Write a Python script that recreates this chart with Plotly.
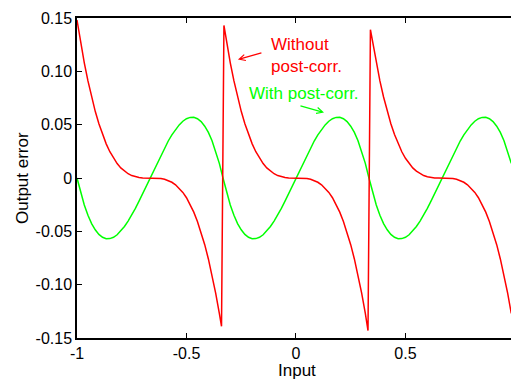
import plotly.graph_objects as go

# Input sample positions (step 1/60 over the plotted span)
x_grid = [round(-1 + i / 60, 4) for i in range(120)]

# Output error without post-correction: three cubic-shaped branches with jumps
red_seg1 = [0.1481, 0.1270, 0.1080, 0.0910, 0.0759, 0.0625, 0.0508, 0.0407, 0.0320, 0.0246,
            0.0185, 0.0135, 0.0095, 0.0064, 0.0040, 0.0023, 0.0012, 0.0005, 0.0001, 0.0000,
            0.0, -0.0000, -0.0001, -0.0005, -0.0012, -0.0023, -0.0040, -0.0064, -0.0095, -0.0135,
            -0.0185, -0.0246, -0.0320, -0.0407, -0.0508, -0.0625, -0.0759, -0.0910, -0.1080, -0.1270]
red_jump1 = [-0.139, 0.143]
red_jump1_x = [-0.340, -0.329]
red_seg2 = [0.1270, 0.1080, 0.0910, 0.0759, 0.0625, 0.0508, 0.0407, 0.0320, 0.0246,
            0.0185, 0.0135, 0.0095, 0.0064, 0.0040, 0.0023, 0.0012, 0.0005, 0.0001, 0.0000,
            0.0, -0.0000, -0.0001, -0.0005, -0.0012, -0.0023, -0.0040, -0.0064, -0.0095, -0.0135,
            -0.0185, -0.0246, -0.0320, -0.0407, -0.0508, -0.0625, -0.0759, -0.0910, -0.1080, -0.1270]
red_jump2 = [-0.143, 0.139]
red_jump2_x = [0.329, 0.340]
red_seg3 = [0.1270, 0.1080, 0.0910, 0.0759, 0.0625, 0.0508, 0.0407, 0.0320, 0.0246,
            0.0185, 0.0135, 0.0095, 0.0064, 0.0040, 0.0023, 0.0012, 0.0005, 0.0001, 0.0000,
            0.0, -0.0000, -0.0001, -0.0005, -0.0012, -0.0023, -0.0040, -0.0064, -0.0095, -0.0135,
            -0.0185, -0.0246, -0.0320, -0.0407, -0.0508, -0.0625, -0.0759, -0.0910, -0.1080, -0.1270]

# Output error with post-correction
green_y = [0.0, -0.0137, -0.0253, -0.0349, -0.0427, -0.0486, -0.0529, -0.0556, -0.0569, -0.0568,
           -0.0556, -0.0532, -0.0498, -0.0455, -0.0404, -0.0347, -0.0284, -0.0217, -0.0147, -0.0074,
           0.0, 0.0074, 0.0147, 0.0217, 0.0284, 0.0347, 0.0404, 0.0455, 0.0498, 0.0532,
           0.0556, 0.0568, 0.0569, 0.0556, 0.0529, 0.0486, 0.0427, 0.0349, 0.0253, 0.0137,
           0.0, -0.0137, -0.0253, -0.0349, -0.0427, -0.0486, -0.0529, -0.0556, -0.0569, -0.0568,
           -0.0556, -0.0532, -0.0498, -0.0455, -0.0404, -0.0347, -0.0284, -0.0217, -0.0147, -0.0074,
           0.0, 0.0074, 0.0147, 0.0217, 0.0284, 0.0347, 0.0404, 0.0455, 0.0498, 0.0532,
           0.0556, 0.0568, 0.0569, 0.0556, 0.0529, 0.0486, 0.0427, 0.0349, 0.0253, 0.0137,
           0.0, -0.0137, -0.0253, -0.0349, -0.0427, -0.0486, -0.0529, -0.0556, -0.0569, -0.0568,
           -0.0556, -0.0532, -0.0498, -0.0455, -0.0404, -0.0347, -0.0284, -0.0217, -0.0147, -0.0074,
           0.0, 0.0074, 0.0147, 0.0217, 0.0284, 0.0347, 0.0404, 0.0455, 0.0498, 0.0532,
           0.0556, 0.0568, 0.0569, 0.0556, 0.0529, 0.0486, 0.0427, 0.0349, 0.0253, 0.0137]

x_tickvals = [-1, -0.5, 0, 0.5]
x_ticktext = ["-1", "-0.5", "0", "0.5"]
y_tickvals = [-0.15, -0.10, -0.05, 0, 0.05, 0.10, 0.15]
y_ticktext = ["-0.15", "-0.10", "-0.05", "0", "0.05", "0.10", "0.15"]

red_x = x_grid[0:40] + red_jump1_x + x_grid[41:80] + red_jump2_x + x_grid[81:120]
red_y = red_seg1 + red_jump1 + red_seg2 + red_jump2 + red_seg3

RED = "#ff0000"
GREEN = "#00ff00"
FONT = "Liberation Sans, Arial, Helvetica, sans-serif"

fig = go.Figure()
fig.add_trace(go.Scatter(x=x_grid, y=green_y, mode="lines",
                         line=dict(color=GREEN, width=1.5), name="With post-corr."))
fig.add_trace(go.Scatter(x=red_x, y=red_y, mode="lines",
                         line=dict(color=RED, width=1.5), name="Without post-corr."))

fig.update_layout(
    width=511, height=381,
    margin=dict(l=77, r=0, t=18, b=43),
    paper_bgcolor="white", plot_bgcolor="white",
    showlegend=False,
    font=dict(family=FONT, size=16, color="black"),
)
fig.update_xaxes(range=[-1, 0.982], tickvals=x_tickvals, ticktext=x_ticktext,
                 showgrid=False, zeroline=False, showline=True, linecolor="black",
                 linewidth=1.5, mirror="ticks", ticks="inside", ticklen=5,
                 tickwidth=1, tickcolor="black")
fig.update_yaxes(range=[-0.15, 0.15], tickvals=y_tickvals, ticktext=y_ticktext,
                 showgrid=False, zeroline=False, showline=True, linecolor="black",
                 linewidth=1.5, ticks="inside", ticklen=5, tickwidth=1,
                 tickcolor="black")

# Axis titles
fig.add_annotation(text="Input", xref="x", yref="paper", x=0.003, y=0,
                   yshift=-32, showarrow=False, yanchor="middle",
                   font=dict(size=17))
fig.add_annotation(text="Output error", xref="paper", yref="paper", x=0, y=0.5,
                   xshift=-55, textangle=-90, showarrow=False, xanchor="center",
                   font=dict(size=17))

# Curve labels with pointer arrows
fig.add_annotation(text="Without<br>post-corr.", x=-0.122, y=0.1153, xref="x", yref="y",
                   xanchor="left", yanchor="middle", align="left", showarrow=False,
                   font=dict(color=RED, size=17))
fig.add_annotation(x=-0.265, y=0.111, ax=-0.151, ay=0.1177, xref="x", yref="y",
                   axref="x", ayref="y", text="", showarrow=True, arrowhead=5,
                   arrowsize=1, arrowwidth=1.2, arrowcolor=RED)
fig.add_annotation(text="With post-corr.", x=-0.224, y=0.079, xref="x", yref="y",
                   xanchor="left", yanchor="middle", showarrow=False,
                   font=dict(color=GREEN, size=17))
fig.add_annotation(x=0.128, y=0.0614, ax=0.0137, ay=0.068, xref="x", yref="y",
                   axref="x", ayref="y", text="", showarrow=True, arrowhead=5,
                   arrowsize=1, arrowwidth=1.2, arrowcolor=GREEN)

fig.write_html("out.html")
